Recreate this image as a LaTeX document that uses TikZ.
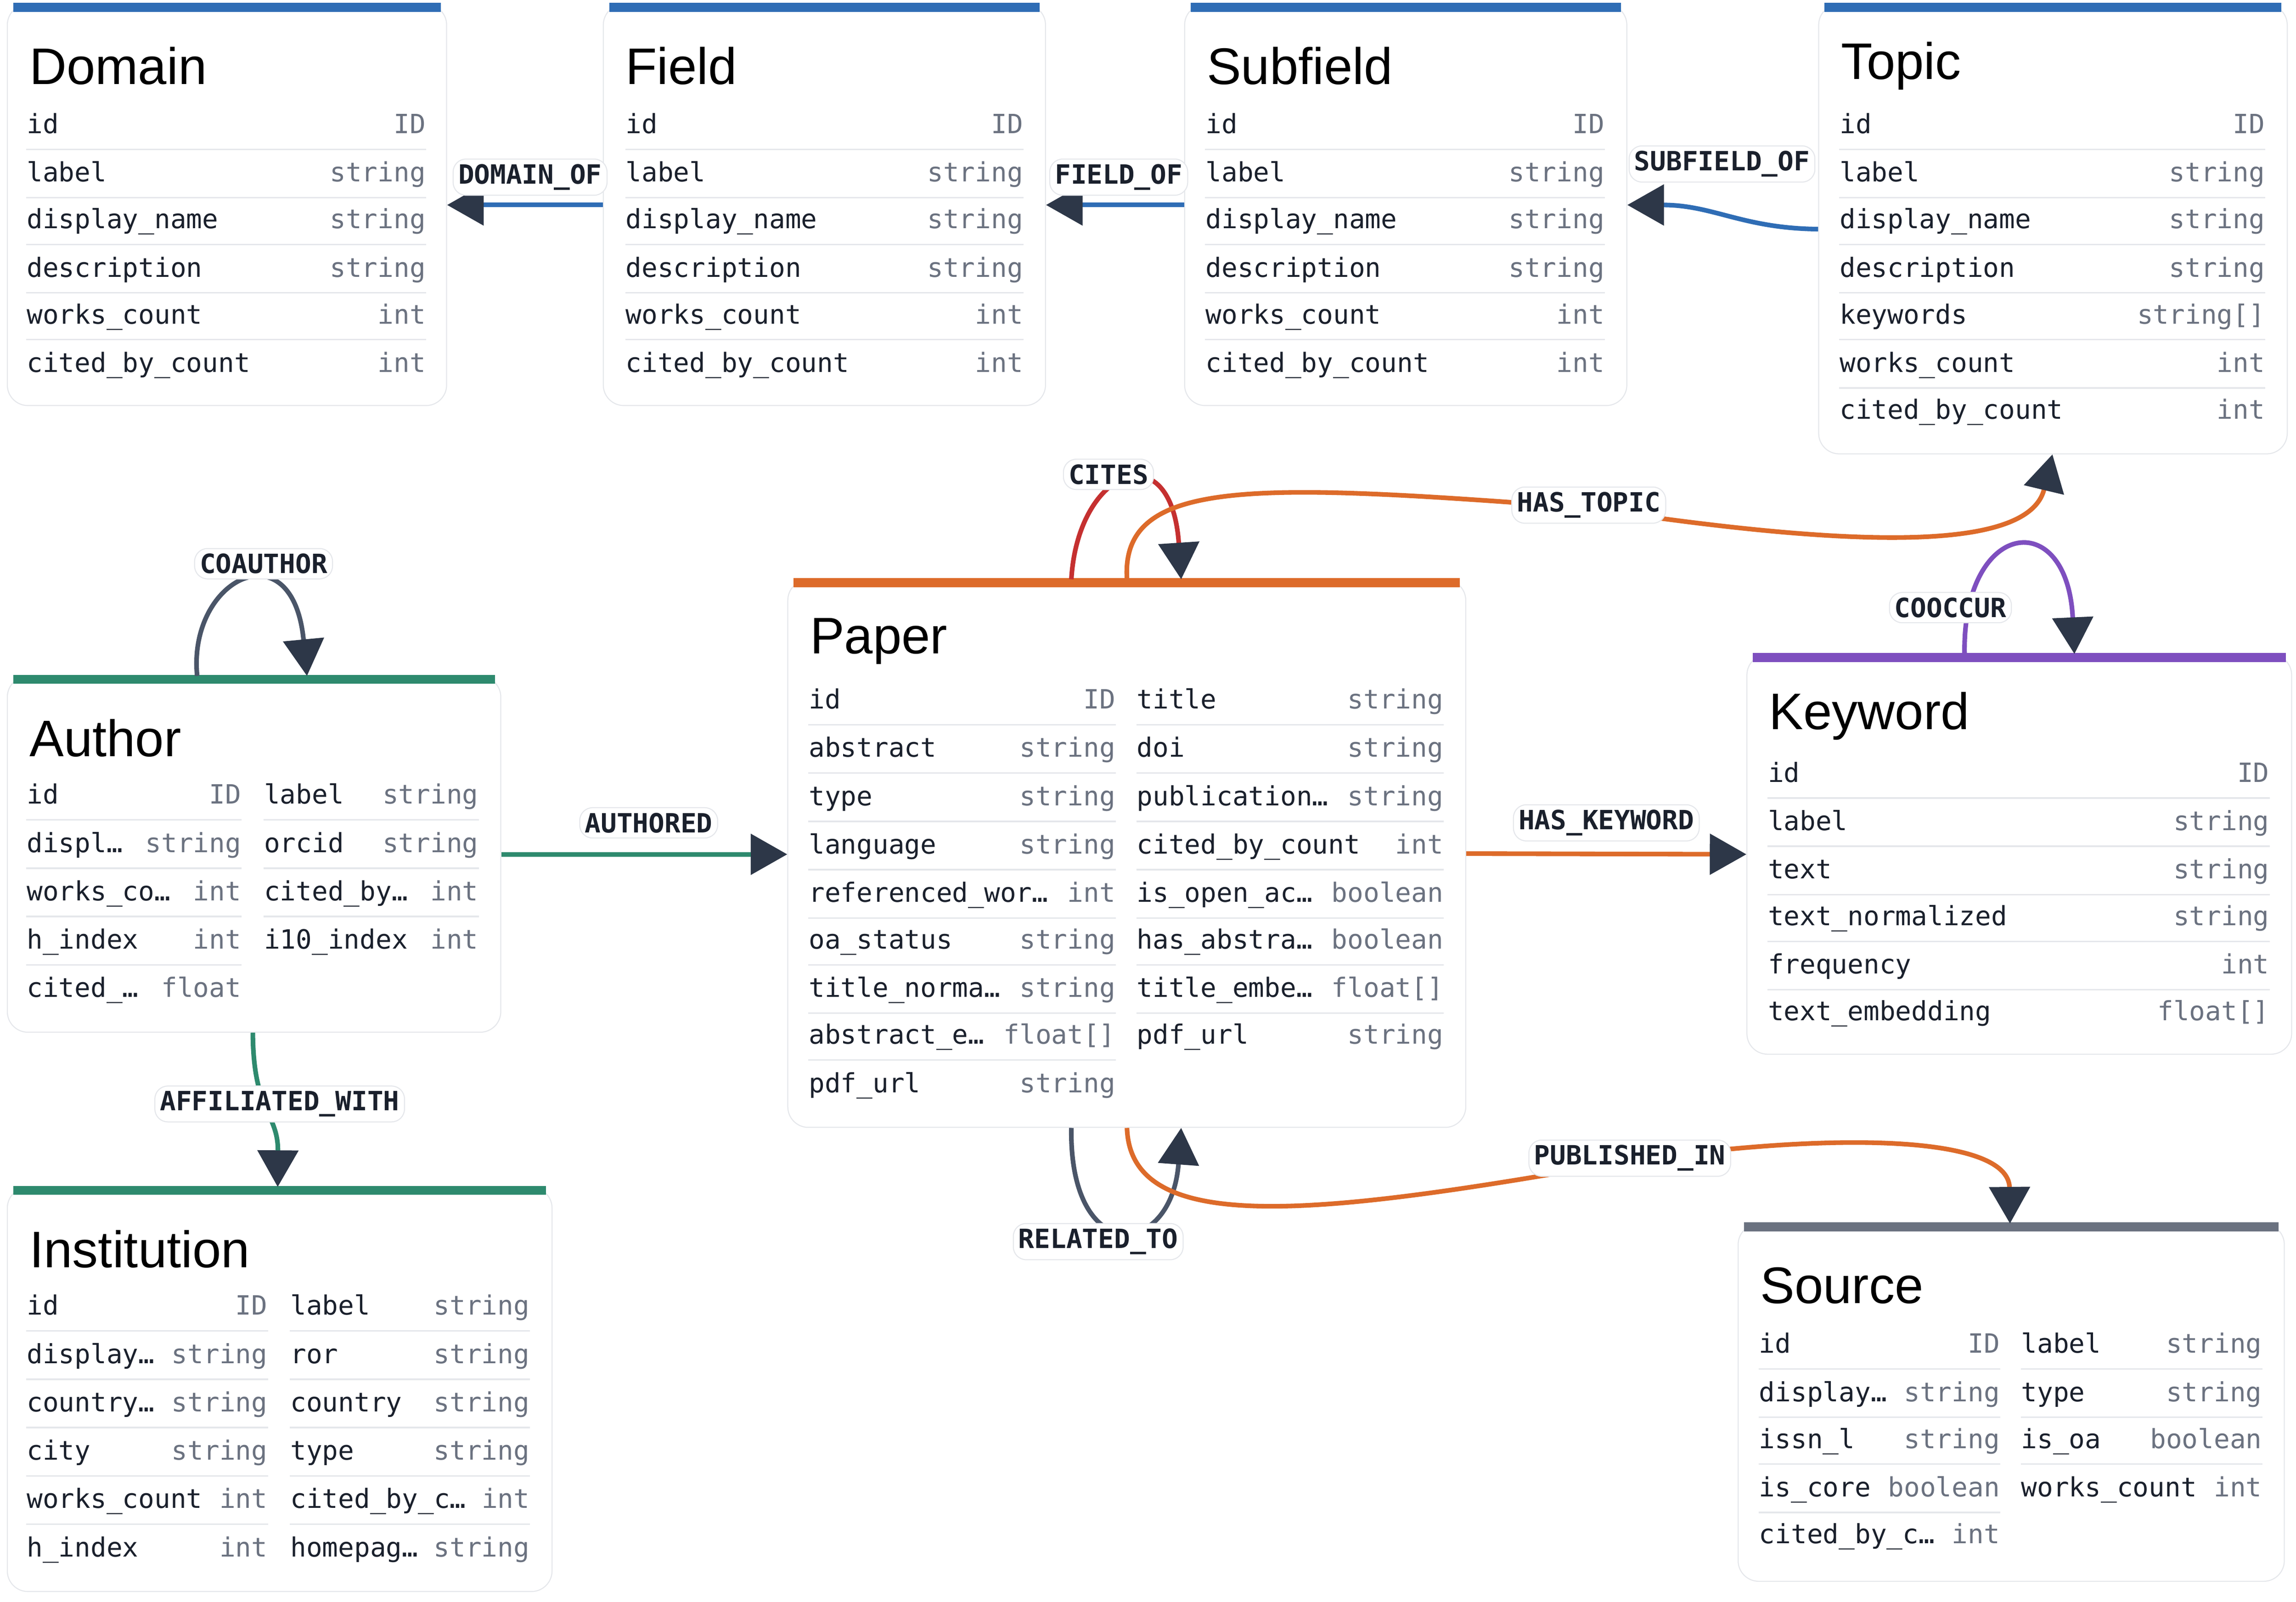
\documentclass[tikz,border=0pt]{standalone}
\usepackage{fontspec}
\setmainfont{Liberation Sans}
\setmonofont{DejaVu Sans Mono}
\usetikzlibrary{positioning,arrows.meta,calc}

\definecolor{cblue}{HTML}{2F6DB5}
\definecolor{corange}{HTML}{DD6B2A}
\definecolor{cteal}{HTML}{2E8A6E}
\definecolor{cpurple}{HTML}{7E4FBF}
\definecolor{cgray}{HTML}{6B7280}
\definecolor{cslate}{HTML}{4A5568}
\definecolor{cred}{HTML}{C53030}
\definecolor{ctip}{HTML}{2D3748}
\definecolor{ctext}{HTML}{1A202C}
\definecolor{cline}{HTML}{E5E7EB}

\tikzset{
  entity/.style={rectangle, draw=cline, fill=white, rounded corners=8pt, inner sep=0pt},
  etitle/.style={anchor=west, font=\fontsize{20}{22}\selectfont, text=black},
  fname/.style={anchor=west, font=\ttfamily\fontsize{10.3}{12}\selectfont, text=ctext, inner sep=0pt, text height=1.6ex, text depth=.5ex},
  ftype/.style={anchor=east, font=\ttfamily\fontsize{10.3}{12}\selectfont, text=cgray, inner sep=0pt, text height=1.6ex, text depth=.5ex},
  sep/.style={cline, line width=0.6pt},
  rel/.style={line width=1.8pt, -{Triangle[length=0.5cm,width=0.55cm,fill=ctip,color=ctip]}},
  rlabel/.style={draw=cline, fill=white, rounded corners=5pt, inner sep=2pt, font=\ttfamily\bfseries\fontsize{10.3}{12}\selectfont, text=ctext}
}
% entity box: name, x1, y1, x2, y2, colour, title
\newcommand\ebox[7]{
  \node[entity, minimum width={(#4-#2)*0.02cm}, minimum height={(#5-#3)*0.02cm}] (#1) at ({(#2+#4)/2},{(#3+#5)/2}) {};
  \draw[#6, line width=3.5pt] (#2+4,#3+2) -- (#4-4,#3+2);
  \node[etitle] (#1-title) at (#2+9,#3+42) {#7};
}
% field row: x, y, name, type, right edge
\newcommand\fld[5]{
  \node[fname] at (#1,#2) {#3};
  \node[ftype] at (#5,#2) {#4};
  \draw[sep] (#1,#2+16) -- (#5,#2+16);
}
\newcommand\fldl[5]{
  \node[fname] at (#1,#2) {#3};
  \node[ftype] at (#5,#2) {#4};
}

\begin{document}
\begin{tikzpicture}[x=0.02cm, y=-0.02cm]
\useasboundingbox (0,0) rectangle (1568,1094);

% Taxonomy
\ebox{domain}{5}{3}{305}{277}{cblue}{Domain}
\fld{18}{86}{id}{ID}{291}
\fld{18}{119}{label}{string}{291}
\fld{18}{151}{display\_name}{string}{291}
\fld{18}{184}{description}{string}{291}
\fld{18}{216}{works\_count}{int}{291}
\fldl{18}{249}{cited\_by\_count}{int}{291}

\ebox{field}{412}{3}{714}{277}{cblue}{Field}
\fld{427}{86}{id}{ID}{699}
\fld{427}{119}{label}{string}{699}
\fld{427}{151}{display\_name}{string}{699}
\fld{427}{184}{description}{string}{699}
\fld{427}{216}{works\_count}{int}{699}
\fldl{427}{249}{cited\_by\_count}{int}{699}

\ebox{subfield}{809}{3}{1111}{277}{cblue}{Subfield}
\fld{823}{86}{id}{ID}{1096}
\fld{823}{119}{label}{string}{1096}
\fld{823}{151}{display\_name}{string}{1096}
\fld{823}{184}{description}{string}{1096}
\fld{823}{216}{works\_count}{int}{1096}
\fldl{823}{249}{cited\_by\_count}{int}{1096}

\ebox{topic}{1242}{3}{1562}{310}{cblue}{Topic}
\fld{1256}{86}{id}{ID}{1547}
\fld{1256}{119}{label}{string}{1547}
\fld{1256}{151}{display\_name}{string}{1547}
\fld{1256}{184}{description}{string}{1547}
\fld{1256}{216}{keywords}{string[]}{1547}
\fld{1256}{249}{works\_count}{int}{1547}
\fldl{1256}{281}{cited\_by\_count}{int}{1547}

% Paper
\ebox{paper}{538}{396}{1001}{770}{corange}{Paper}
\fld{552}{479}{id}{ID}{762}
\fld{552}{512}{abstract}{string}{762}
\fld{552}{545}{type}{string}{762}
\fld{552}{578}{language}{string}{762}
\fld{552}{611}{referenced\_wor…}{int}{762}
\fld{552}{643}{oa\_status}{string}{762}
\fld{552}{676}{title\_norma…}{string}{762}
\fld{552}{708}{abstract\_e…}{float[]}{762}
\fldl{552}{741}{pdf\_url}{string}{762}
\fld{776}{479}{title}{string}{986}
\fld{776}{512}{doi}{string}{986}
\fld{776}{545}{publication…}{string}{986}
\fld{776}{578}{cited\_by\_count}{int}{986}
\fld{776}{611}{is\_open\_ac…}{boolean}{986}
\fld{776}{643}{has\_abstra…}{boolean}{986}
\fld{776}{676}{title\_embe…}{float[]}{986}
\fldl{776}{708}{pdf\_url}{string}{986}

% Author
\ebox{author}{5}{462}{342}{705}{cteal}{Author}
\fld{18}{544}{id}{ID}{165}
\fld{18}{577}{displ…}{string}{165}
\fld{18}{610}{works\_co…}{int}{165}
\fld{18}{643}{h\_index}{int}{165}
\fldl{18}{676}{cited\_…}{float}{165}
\fld{180}{544}{label}{string}{327}
\fld{180}{577}{orcid}{string}{327}
\fld{180}{610}{cited\_by…}{int}{327}
\fldl{180}{643}{i10\_index}{int}{327}

% Institution
\ebox{institution}{5}{811}{377}{1087}{cteal}{Institution}
\fld{18}{893}{id}{ID}{183}
\fld{18}{926}{display…}{string}{183}
\fld{18}{959}{country…}{string}{183}
\fld{18}{992}{city}{string}{183}
\fld{18}{1025}{works\_count}{int}{183}
\fldl{18}{1058}{h\_index}{int}{183}
\fld{198}{893}{label}{string}{362}
\fld{198}{926}{ror}{string}{362}
\fld{198}{959}{country}{string}{362}
\fld{198}{992}{type}{string}{362}
\fld{198}{1025}{cited\_by\_c…}{int}{362}
\fldl{198}{1058}{homepag…}{string}{362}

% Keyword
\ebox{keyword}{1193}{447}{1565}{720}{cpurple}{Keyword}
\fld{1207}{529}{id}{ID}{1550}
\fld{1207}{562}{label}{string}{1550}
\fld{1207}{595}{text}{string}{1550}
\fld{1207}{627}{text\_normalized}{string}{1550}
\fld{1207}{660}{frequency}{int}{1550}
\fldl{1207}{692}{text\_embedding}{float[]}{1550}

% Source
\ebox{source}{1187}{836}{1560}{1080}{cgray}{Source}
\fld{1201}{919}{id}{ID}{1366}
\fld{1201}{952}{display…}{string}{1366}
\fld{1201}{984}{issn\_l}{string}{1366}
\fld{1201}{1017}{is\_core}{boolean}{1366}
\fldl{1201}{1049}{cited\_by\_c…}{int}{1366}
\fld{1380}{919}{label}{string}{1545}
\fld{1380}{952}{type}{string}{1545}
\fld{1380}{984}{is\_oa}{boolean}{1545}
\fldl{1380}{1017}{works\_count}{int}{1545}

% Relations
\draw[rel, cblue] (field.west) -- (domain.east);
\draw[rel, cblue] (subfield.west) -- (subfield.west -| field.east);
\draw[rel, cblue] (topic.west) .. controls (1190,156) and (1170,140) .. (subfield.east);
\draw[rel, cteal] (author.east) -- (paper.west |- author.east);
\draw[rel, corange] (paper.east) -- (keyword.west);
\draw[rel, cteal] ($(author.south west)+(168,0)$) .. controls (173,760) and (190,760) .. ($(institution.north west)+(185,0)$);
\draw[rel, cslate] ($(author.north west)+(130,0)$) .. controls (128,395) and (200,360) .. ($(author.north west)+(205,0)$);
\draw[rel, cpurple] ($(keyword.north west)+(149,0)$) .. controls (1340,355) and (1412,345) .. ($(keyword.north west)+(224,0)$);
\draw[rel, cred] ($(paper.north west)+(194,0)$) .. controls (736,320) and (800,295) .. ($(paper.north west)+(269,0)$);
\draw[rel, corange] ($(paper.north west)+(232,0)$) .. controls (765,325) and (860,330) .. (1085,347) .. controls (1250,372) and (1385,380) .. ($(topic.south west)+(160,0)$);
\draw[rel, cslate] ($(paper.south west)+(194,0)$) .. controls (730,865) and (800,860) .. ($(paper.south west)+(269,0)$);
\draw[rel, corange] ($(paper.south west)+(232,0)$) .. controls (772,845) and (900,830) .. (1100,795) .. controls (1250,772) and (1372,775) .. ($(source.north west)+(186,0)$);

% Relation labels
\node[rlabel] (l-domainof) at (362,121) {DOMAIN\_OF};
\node[rlabel] (l-fieldof) at (764,121) {FIELD\_OF};
\node[rlabel] (l-subfieldof) at (1176,112) {SUBFIELD\_OF};
\node[rlabel] (l-cites) at (757,324) {CITES};
\node[rlabel] (l-hastopic) at (1085,345) {HAS\_TOPIC};
\node[rlabel] (l-coauthor) at (180,385) {COAUTHOR};
\node[rlabel] (l-cooccur) at (1332,415) {COOCCUR};
\node[rlabel] (l-authored) at (443,562) {AUTHORED};
\node[rlabel] (l-haskeyword) at (1097,562) {HAS\_KEYWORD};
\node[rlabel] (l-affiliated) at (191,754) {AFFILIATED\_WITH};
\node[rlabel] (l-relatedto) at (750,848) {RELATED\_TO};
\node[rlabel] (l-publishedin) at (1113,791) {PUBLISHED\_IN};
\end{tikzpicture}
\end{document}
